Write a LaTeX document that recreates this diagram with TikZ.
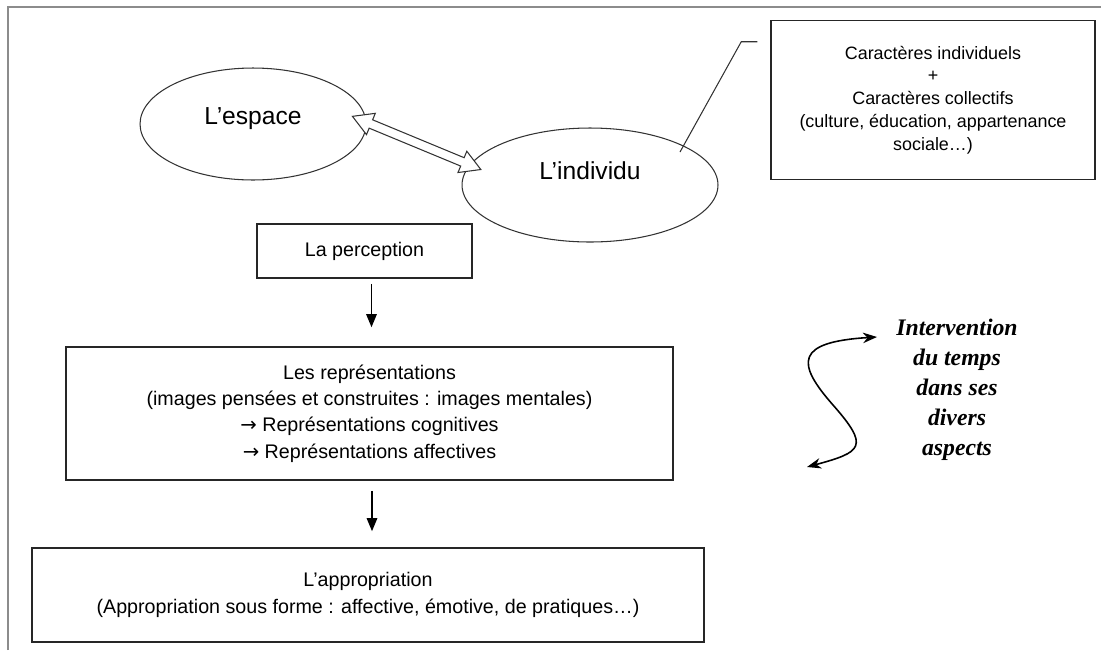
\documentclass[tikz,border=0pt]{standalone}
\usepackage{fontspec}
\setmainfont{Liberation Sans}
\newfontfamily\symbfont{DejaVu Sans}
\newfontfamily\tempsfont{Liberation Serif}
\usetikzlibrary{shapes.geometric,shapes.arrows,arrows.meta,calc}

\begin{document}
\begin{tikzpicture}[
    x=0.02cm, y=-0.02cm,
    >={Triangle[length=7.5pt,width=6pt]},
    bulle/.style={
        ellipse,
        draw=black!80,
        line width=0.6pt,
        inner sep=0pt,
        font=\fontsize{14}{16}\selectfont
    },
    box/.style={
        draw=black!85,
        line width=0.9pt,
        align=center,
        inner sep=0pt,
        font=\fontsize{11.2}{15}\selectfont
    },
    arr/.style={->, line width=0.9pt, draw=black},
    lien/.style={
        double arrow,
        draw=black!80,
        line width=0.6pt,
        fill=white,
        inner xsep=0pt,
        inner ysep=0.08cm,
        double arrow head extend=0.14cm,
        double arrow tip angle=60,
        minimum height=2.78cm
    },
    fil/.style={draw=black!80, line width=0.6pt},
    spirale/.style={{Stealth[length=8pt,width=6pt]}-{Stealth[length=8pt,width=6pt]}, line width=0.9pt},
    temps/.style={
        align=center,
        font=\tempsfont\bfseries\itshape\fontsize{13.5}{17}\selectfont
    },
    cadre/.style={draw=black!45, line width=0.6pt}
]
    \useasboundingbox (0,0) rectangle (1101,650);
    \draw[cadre] (8,650) -- (8,7) -- (1101,7);

    \node[bulle, minimum width=4.52cm, minimum height=2.24cm, text depth=9.5pt] (espace) at (253,124)
        {L’espace};
    \node[bulle, minimum width=5.12cm, minimum height=2.28cm, text depth=16pt] (individu) at (590,185)
        {L’individu};

    \node[box, minimum width=6.48cm, minimum height=3.18cm,
          font=\fontsize{10.2}{13}\selectfont] (car) at (933,100)
        {Caractères individuels\\+\\Caractères collectifs\\(culture, éducation, appartenance\\sociale…)};

    \node[box, minimum width=4.3cm, minimum height=1.08cm] (percep) at (364.5,251)
        {La perception};

    \node[box, minimum width=12.14cm, minimum height=2.66cm] (repr) at (369.5,413.5)
        {Les représentations\\(images pensées et construites : images mentales)\\{\symbfont →} Représentations cognitives\\{\symbfont →} Représentations affectives};

    \node[box, minimum width=13.44cm, minimum height=1.88cm,
          font=\fontsize{11.2}{15.3}\selectfont] (appro) at (368,595)
        {L’appropriation\\(Appropriation sous forme : affective, émotive, de pratiques…)};

    \node[temps] (tps) at (957,390)
        {Intervention\\du temps\\dans ses\\divers\\aspects};

    \coordinate (dA) at (espace.3);
    \coordinate (dB) at (individu.172);
    \node[lien, rotate=-22.5] (lienEI) at ($(dA)!0.5!(dB)$) {};

    \coordinate (cFin) at (680,152);
    \draw[fil] ($(car.north west)+(-13,22)$) -- ++(-16,0) -- (cFin);

    \draw[arr] ($(percep.south)+(7,5)$) -- ($(percep.south |- repr.north)+(7,-19)$);
    \draw[arr] ($(repr.south)+(2.5,10)$) -- ($(repr.south |- appro.north)+(2.5,-16)$);

    \coordinate (sHaut) at (877,337);
    \coordinate (sBas) at (807,467);
    \draw[spirale] (sBas) .. controls (862,452) and (870,447) .. (833,405)
        .. controls (796,363) and (795,342) .. (sHaut);
\end{tikzpicture}
\end{document}
